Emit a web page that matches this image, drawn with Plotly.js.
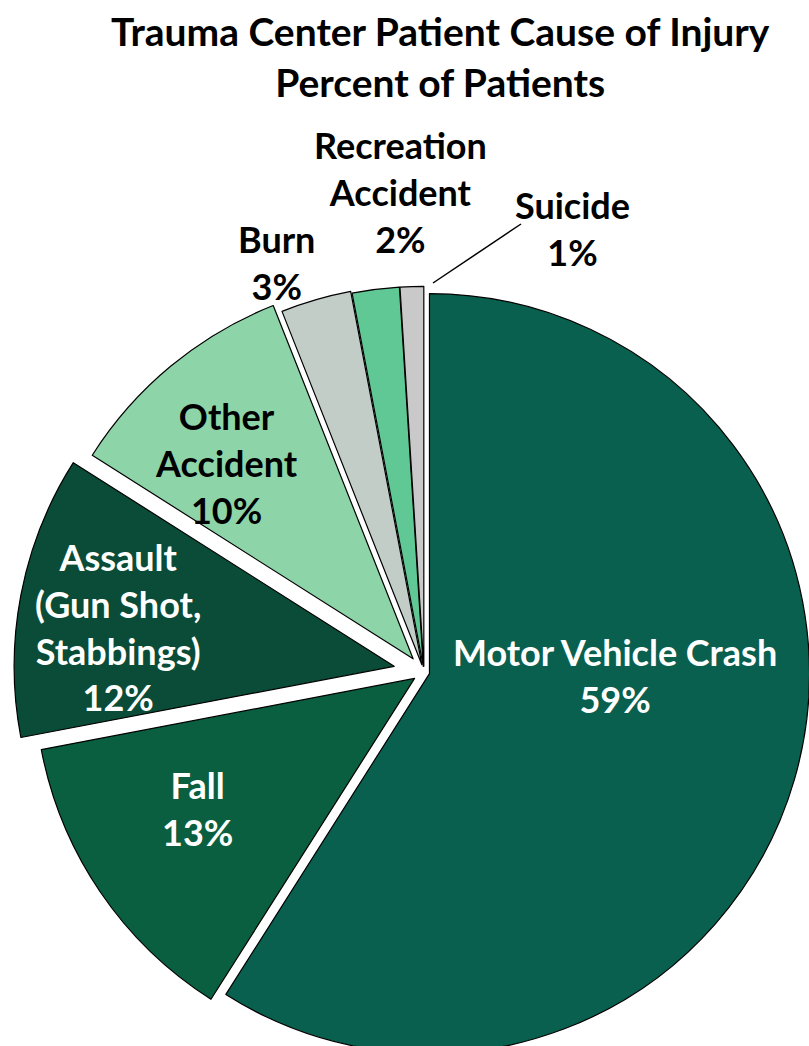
<!DOCTYPE html>
<html>
<head>
<meta charset="utf-8">
<script src="https://cdn.plot.ly/plotly-3.0.1.min.js"></script>
<style>
html,body{margin:0;padding:0;overflow:hidden;background:#fff;}
#chart{width:880px;height:1100px;}
</style>
</head>
<body>
<div id="chart"></div>
<script>
// Data
var categories = ["Motor Vehicle Crash", "Fall", "Assault (Gun Shot, Stabbings)", "Other Accident", "Burn", "Recreation Accident", "Suicide"];
var percents = [59, 13, 12, 10, 3, 2, 1];
var labelLines = [["Motor Vehicle Crash"], ["Fall"], ["Assault", "(Gun Shot,", "Stabbings)"], ["Other", "Accident"], ["Burn"], ["Recreation", "Accident"], ["Suicide"]];
var titleLines = ["Trauma Center Patient Cause of Injury", "Percent of Patients"];

// Styles / geometry
var colors = ["#0a604f", "#0a5f40", "#0a4c37", "#8dd4a8", "#c3cdc7", "#5fc894", "#c9c9c9"];
var pulls = [0.015, 0.03, 0.08, 0.045, 0.02, 0.015, 0.015];
var textColors = ["#fff", "#fff", "#fff", "#000", "#000", "#000", "#000"];
var labelPos = [[615, 675], [197, 808], [118, 627], [226, 463], [276, 262], [400, 192], [572, 228]];

var W = 880, H = 1100;
var cx = 424, cy = 672, R = 380;
var maxPull = Math.max.apply(null, pulls);
var box = 2 * R * (1 + maxPull);
var FONT = "Lato, 'Noto Sans', sans-serif";

function px(x) { return x / W; }
function py(y) { return 1 - y / H; }

var trace = {
  type: "pie",
  labels: categories,
  values: percents,
  sort: false,
  direction: "clockwise",
  rotation: 0,
  pull: pulls,
  textinfo: "none",
  hoverinfo: "label+percent",
  marker: { colors: colors, line: { color: "#000", width: 1.2 } },
  domain: {
    x: [px(cx - box / 2), px(cx + box / 2)],
    y: [py(cy + box / 2), py(cy - box / 2)]
  },
  showlegend: false
};

var annotations = [];
for (var i = 0; i < categories.length; i++) {
  var txt = labelLines[i].concat([percents[i] + "%"]).join("<br>");
  annotations.push({
    xref: "paper", yref: "paper",
    x: px(labelPos[i][0]), y: py(labelPos[i][1]),
    xanchor: "center", yanchor: "middle",
    text: txt, showarrow: false,
    font: { family: FONT, size: 36, color: textColors[i], weight: "bold" },
    align: "center"
  });
}
annotations.push({
  xref: "paper", yref: "paper",
  x: px(441), y: py(57),
  xanchor: "center", yanchor: "middle",
  text: titleLines.join("<br>"), showarrow: false,
  font: { family: FONT, size: 39, color: "#000", weight: "bold" },
  align: "center"
});

var layout = {
  width: W, height: H,
  margin: { l: 0, r: 0, t: 0, b: 0 },
  paper_bgcolor: "#fff",
  annotations: annotations,
  shapes: [{
    type: "line", xref: "paper", yref: "paper",
    x0: px(433), y0: py(283), x1: px(521), y1: py(224),
    line: { color: "#000", width: 1.5 }
  }]
};

Plotly.newPlot("chart", [trace], layout, { displayModeBar: false, staticPlot: true });
</script>
</body>
</html>
